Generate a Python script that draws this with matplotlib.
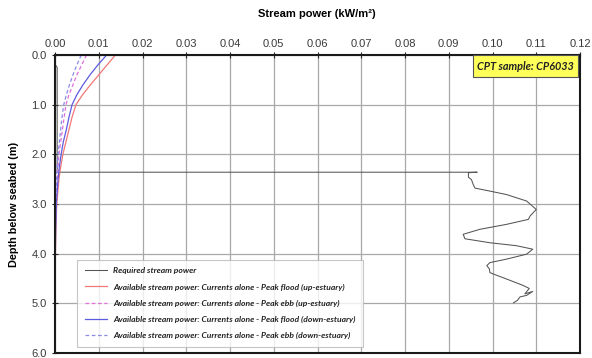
import matplotlib
matplotlib.use("Agg")
import matplotlib.pyplot as plt
from matplotlib.patches import Rectangle

# Required stream power profile (kW/m2) against depth (m)
req_power = [0.0001, 0.0005, 0.0005, 0.0005, 0.0965, 0.0945, 0.0945, 0.0952, 0.0956,
             0.0960, 0.0994, 0.1032, 0.1078, 0.1100, 0.1086, 0.1082, 0.1032, 0.0971,
             0.0933, 0.0937, 0.0994, 0.1055, 0.1092, 0.1078, 0.1032, 0.0994, 0.0987,
             0.0993, 0.0994, 0.1002, 0.1032, 0.1070, 0.1084, 0.1074, 0.1092, 0.1078,
             0.1063, 0.1057, 0.1048]
req_depth = [0.20, 0.25, 1.50, 2.36, 2.36, 2.37, 2.46, 2.51, 2.61,
             2.68, 2.74, 2.81, 2.94, 3.11, 3.24, 3.31, 3.41, 3.51,
             3.61, 3.70, 3.78, 3.84, 3.91, 4.01, 4.11, 4.18, 4.24,
             4.31, 4.38, 4.41, 4.51, 4.64, 4.70, 4.81, 4.76, 4.84,
             4.87, 4.94, 4.99]

# Available stream power from currents alone
avail_depth = [0.0, 0.2, 0.4, 0.6, 0.8, 1.0, 1.25, 1.5, 1.75, 2.0, 2.25, 2.5,
               3.0, 3.5, 4.0, 4.5, 4.8]
flood_up = [0.0138, 0.0119, 0.0100, 0.0081, 0.0063, 0.0048, 0.0039, 0.0032, 0.0025,
            0.0018, 0.0013, 0.0009, 0.0004, 0.0002, 0.0001, 0.00003, 0.0]
ebb_up = [0.0072, 0.0061, 0.0050, 0.0041, 0.0032, 0.0025, 0.0021, 0.0017, 0.0013,
          0.0009, 0.0007, 0.0005, 0.0002, 0.0001, 0.00005, 0.00001, 0.0]
flood_down = [0.0118, 0.0098, 0.0080, 0.0064, 0.0050, 0.0039, 0.0032, 0.0026, 0.0019,
              0.0014, 0.0010, 0.0007, 0.0003, 0.00015, 0.00007, 0.00002, 0.0]
ebb_down = [0.0060, 0.0050, 0.0041, 0.0033, 0.0026, 0.0020, 0.0016, 0.0013, 0.0010,
            0.0007, 0.0005, 0.0003, 0.00015, 0.00007, 0.00003, 0.0, 0.0]

x_ticks = [0.00, 0.01, 0.02, 0.03, 0.04, 0.05, 0.06, 0.07, 0.08, 0.09, 0.10, 0.11, 0.12]
y_ticks = [0.0, 1.0, 2.0, 3.0, 4.0, 5.0, 6.0]

labels = [
    "Required stream power",
    "Available stream power: Currents alone - Peak flood (up-estuary)",
    "Available stream power: Currents alone - Peak ebb (up-estuary)",
    "Available stream power: Currents alone - Peak flood (down-estuary)",
    "Available stream power: Currents alone - Peak ebb (down-estuary)",
]

plt.rcParams["font.family"] = ["Liberation Sans", "DejaVu Sans"]

fig = plt.figure(figsize=(5.92, 3.58), dpi=100)
ax = fig.add_axes([55 / 592, 1 - 353 / 358, 525 / 592, 298 / 358])

ax.plot(req_power, req_depth, color="#555555", lw=0.75, label=labels[0])
ax.plot(flood_up, avail_depth, color="#F07878", lw=0.9, label=labels[1])
ax.plot(ebb_up, avail_depth, color="#E070D8", lw=0.9, dashes=(3, 2), label=labels[2])
ax.plot(flood_down, avail_depth, color="#5C5CE0", lw=0.9, label=labels[3])
ax.plot(ebb_down, avail_depth, color="#8C8CE8", lw=0.9, dashes=(3, 2), label=labels[4])

ax.set_xlim(0, 0.12)
ax.set_ylim(6.0, 0.0)
ax.set_xticks(x_ticks)
ax.set_xticklabels([f"{v:.2f}" for v in x_ticks])
ax.set_yticks(y_ticks)
ax.set_yticklabels([f"{v:.1f}" for v in y_ticks])
ax.xaxis.tick_top()
ax.tick_params(axis="both", labelsize=8, direction="inout", length=5, width=0.8,
               colors="#222222", labelcolor="#3a3a3a")
ax.tick_params(axis="x", pad=2)
ax.grid(True, color="#a8a8a8", lw=0.9)
ax.set_axisbelow(True)
for s in ax.spines.values():
    s.set_linewidth(1.5)
    s.set_color("#1a1a1a")

ax.set_ylabel("Depth below seabed (m)", fontsize=7.8, fontweight="bold", labelpad=9)
fig.text(0.5355, 1 - 14 / 358, "Stream power (kW/m²)", ha="center", va="center",
         fontsize=8, fontweight="bold")

leg = ax.legend(loc="lower left", bbox_to_anchor=(0.042, 0.02), fancybox=False,
                prop={"family": "Lato", "weight": "bold", "style": "italic", "size": 6.1},
                handlelength=2.6, handletextpad=0.8, labelspacing=1.07,
                borderpad=0.9, borderaxespad=0, frameon=True)
leg.get_frame().set_edgecolor("#b8b8b8")
leg.get_frame().set_linewidth(0.8)
for t in leg.get_texts():
    t.set_color("#222222")

ax.add_patch(Rectangle((0.796, 0.926), 0.2, 0.074, transform=ax.transAxes,
                       facecolor="#FFFF5A", edgecolor="#555555", lw=0.8, zorder=5,
                       clip_on=False))
ax.text(0.896, 0.963, "CPT sample: CP6033", transform=ax.transAxes, ha="center",
        va="center", fontsize=7.8, fontweight="bold", style="italic", family="Lato",
        color="#222222", zorder=6)

fig.savefig("out.png", dpi=100)
